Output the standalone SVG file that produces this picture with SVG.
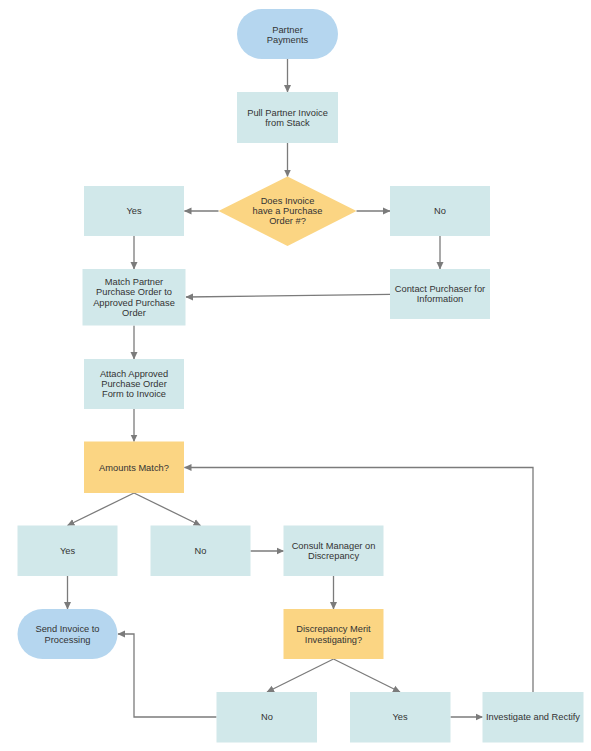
<svg xmlns="http://www.w3.org/2000/svg" width="591" height="751" viewBox="0 0 591 751">
<defs>
<marker id="ah" markerWidth="8" markerHeight="8" refX="7" refY="4" orient="auto" markerUnits="userSpaceOnUse">
<path d="M0,0.5 L7.5,4 L0,7.5 Z" fill="#7b7b7b"/>
</marker>
<style>
.box{fill:#d1e8ea}
.dec{fill:#fbd583}
.term{fill:#b5d6ef}
.t{font-family:"Liberation Sans",Arial,sans-serif;font-size:9.3px;fill:#333;text-anchor:middle}
.c{fill:none;stroke:#7b7b7b;stroke-width:1.3;marker-end:url(#ah)}
.cn{fill:none;stroke:#7b7b7b;stroke-width:1.3}
</style>
</defs>
<rect width="591" height="751" fill="#fff"/>
<g id="connectors">
<path class="c" d="M287.5,59 V92"/>
<path class="c" d="M287.5,143 V176.5"/>
<path class="c" d="M218.5,211 H184.5"/>
<path class="c" d="M356.5,211 H390"/>
<path class="c" d="M134,236 V269"/>
<path class="c" d="M440,236 V269"/>
<path class="c" d="M390,294.3 L186,297"/>
<path class="c" d="M134,325.5 V359"/>
<path class="c" d="M134,409 V441.5"/>
<path class="c" d="M134,493 L67.5,525.5"/>
<path class="c" d="M134,493 L200.5,525.5"/>
<path class="c" d="M250.5,551 H283.5"/>
<path class="c" d="M67.5,576 V609"/>
<path class="c" d="M333.5,576 V609"/>
<path class="c" d="M333.5,659 L267,692"/>
<path class="c" d="M333.5,659 L400,692"/>
<path class="c" d="M450.5,717 H482.5"/>
<path class="c" d="M216.5,717 H134 V634 H118"/>
<path class="c" d="M533,692 V467.5 H184.5"/>
</g>
<g id="n_partner_payments">
<rect class="term" x="237" y="9" width="101" height="50" rx="25"/>
<text class="t" x="287.5" y="32.5">Partner</text>
<text class="t" x="287.5" y="42.5">Payments</text>
</g>
<g id="n_pull">
<rect class="box" x="237" y="92" width="101" height="51"/>
<text class="t" x="287.5" y="116">Pull Partner Invoice</text>
<text class="t" x="287.5" y="126">from Stack</text>
</g>
<g id="n_does_invoice">
<polygon class="dec" points="287.5,176.5 356.5,211 287.5,246 218.5,211"/>
<text class="t" x="287.5" y="204.3">Does Invoice</text>
<text class="t" x="287.5" y="214.3">have a Purchase</text>
<text class="t" x="287.5" y="224.3">Order #?</text>
</g>
<g id="n_yes1">
<rect class="box" x="84" y="186" width="100" height="50"/>
<text class="t" x="134" y="214.3">Yes</text>
</g>
<g id="n_no1">
<rect class="box" x="390" y="186" width="100" height="50"/>
<text class="t" x="440" y="214.3">No</text>
</g>
<g id="n_match">
<rect class="box" x="82.5" y="269" width="103" height="56.5"/>
<text class="t" x="134" y="285">Match Partner</text>
<text class="t" x="134" y="295.3">Purchase Order to</text>
<text class="t" x="134" y="305.6">Approved Purchase</text>
<text class="t" x="134" y="315.9">Order</text>
</g>
<g id="n_contact">
<rect class="box" x="390" y="269" width="100" height="50"/>
<text class="t" x="440" y="292.3">Contact Purchaser for</text>
<text class="t" x="440" y="302.3">Information</text>
</g>
<g id="n_attach">
<rect class="box" x="84" y="359" width="100" height="50"/>
<text class="t" x="134" y="376.6">Attach Approved</text>
<text class="t" x="134" y="387">Purchase Order</text>
<text class="t" x="134" y="397.3">Form to Invoice</text>
</g>
<g id="n_amounts">
<rect class="dec" x="84" y="441.5" width="100" height="51.5"/>
<text class="t" x="134" y="471">Amounts Match?</text>
</g>
<g id="n_yes2">
<rect class="box" x="17.5" y="525.5" width="100" height="50.5"/>
<text class="t" x="67.5" y="554.3">Yes</text>
</g>
<g id="n_no2">
<rect class="box" x="150.5" y="525.5" width="100" height="50.5"/>
<text class="t" x="200.5" y="554.3">No</text>
</g>
<g id="n_consult">
<rect class="box" x="283.5" y="525.5" width="100" height="50.5"/>
<text class="t" x="333.5" y="549">Consult Manager on</text>
<text class="t" x="333.5" y="559.3">Discrepancy</text>
</g>
<g id="n_send">
<rect class="term" x="17.5" y="609" width="100" height="50" rx="25"/>
<text class="t" x="67.5" y="632.3">Send Invoice to</text>
<text class="t" x="67.5" y="642.6">Processing</text>
</g>
<g id="n_merit">
<rect class="dec" x="283.5" y="609" width="100" height="50"/>
<text class="t" x="333.5" y="632.3">Discrepancy Merit</text>
<text class="t" x="333.5" y="642.6">Investigating?</text>
</g>
<g id="n_no3">
<rect class="box" x="216.5" y="692" width="100.5" height="50.5"/>
<text class="t" x="267" y="720.3">No</text>
</g>
<g id="n_yes3">
<rect class="box" x="350" y="692" width="100.5" height="50.5"/>
<text class="t" x="400" y="720.3">Yes</text>
</g>
<g id="n_investigate">
<rect class="box" x="482.5" y="692" width="101" height="50.5"/>
<text class="t" x="533" y="720.3">Investigate and Rectify</text>
</g>
</svg>
